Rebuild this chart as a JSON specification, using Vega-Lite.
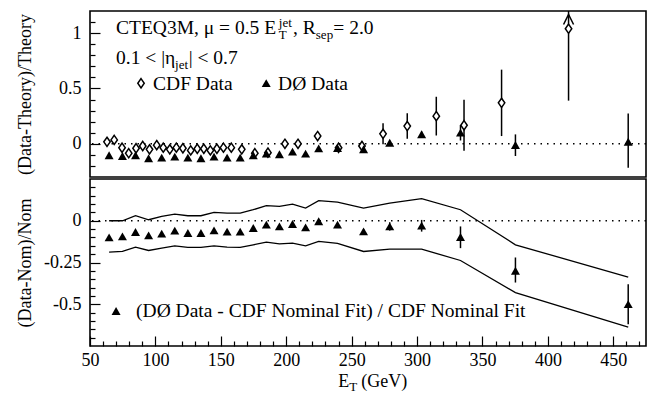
{
  "$schema": "https://vega.github.io/schema/vega-lite/v6.json",
  "background": "white",
  "padding": {"left": 15, "top": 10, "right": 10, "bottom": 0},
  "spacing": 0,
  "config": {
    "view": {"stroke": "black", "strokeWidth": 1.6, "fill": "white"},
    "axis": {"domain": false, "grid": false, "labelFont": "Liberation Serif", "labelFontSize": 18, "labelColor": "black", "tickColor": "black", "tickWidth": 1.2, "titleFont": "Liberation Serif", "titleFontSize": 18, "titleFontWeight": "normal", "titleColor": "black", "labelOverlap": false, "labelFlush": false},
    "text": {"font": "Liberation Serif", "color": "black"}
  },
  "datasets": {
    "cdf": [
      {"x": 63, "y": 0.018, "lo": 0.013, "hi": 0.023},
      {"x": 68.5, "y": 0.035, "lo": 0.03, "hi": 0.04},
      {"x": 74.5, "y": -0.036, "lo": -0.041, "hi": -0.031},
      {"x": 79.6, "y": -0.085, "lo": -0.09, "hi": -0.08},
      {"x": 85.2, "y": -0.04, "lo": -0.045, "hi": -0.035},
      {"x": 90.3, "y": -0.02, "lo": -0.025, "hi": -0.015},
      {"x": 95.5, "y": -0.05, "lo": -0.055, "hi": -0.045},
      {"x": 101, "y": -0.012, "lo": -0.017, "hi": -0.007},
      {"x": 106, "y": -0.035, "lo": -0.04, "hi": -0.03},
      {"x": 111, "y": -0.05, "lo": -0.055, "hi": -0.045},
      {"x": 116, "y": -0.035, "lo": -0.04, "hi": -0.03},
      {"x": 121, "y": -0.04, "lo": -0.045, "hi": -0.035},
      {"x": 127, "y": -0.06, "lo": -0.066, "hi": -0.054},
      {"x": 132, "y": -0.045, "lo": -0.051, "hi": -0.039},
      {"x": 137, "y": -0.045, "lo": -0.051, "hi": -0.039},
      {"x": 142, "y": -0.06, "lo": -0.066, "hi": -0.054},
      {"x": 147, "y": -0.045, "lo": -0.051, "hi": -0.039},
      {"x": 152, "y": -0.035, "lo": -0.041, "hi": -0.029},
      {"x": 158, "y": -0.035, "lo": -0.041, "hi": -0.029},
      {"x": 166, "y": -0.05, "lo": -0.057, "hi": -0.043},
      {"x": 176, "y": -0.085, "lo": -0.092, "hi": -0.078},
      {"x": 186, "y": -0.08, "lo": -0.088, "hi": -0.072},
      {"x": 199, "y": 0.0, "lo": -0.01, "hi": 0.01},
      {"x": 209, "y": 0.0, "lo": -0.012, "hi": 0.012},
      {"x": 224, "y": 0.07, "lo": 0.055, "hi": 0.085},
      {"x": 240, "y": -0.036, "lo": -0.056, "hi": -0.016},
      {"x": 257.9, "y": -0.02, "lo": -0.06, "hi": 0.02},
      {"x": 274, "y": 0.09, "lo": -0.005, "hi": 0.185},
      {"x": 292.5, "y": 0.16, "lo": 0.045, "hi": 0.275},
      {"x": 314.7, "y": 0.25, "lo": 0.075, "hi": 0.425},
      {"x": 335.9, "y": 0.168, "lo": -0.062, "hi": 0.398},
      {"x": 364.6, "y": 0.37, "lo": 0.07, "hi": 0.67},
      {"x": 415.8, "y": 1.04, "lo": 0.39, "hi": 1.6}
    ],
    "d0": [
      {"x": 64.6, "y": -0.105, "lo": -0.111, "hi": -0.099, "r": -0.1, "rlo": -0.106, "rhi": -0.094, "up": 0.0, "dn": -0.188},
      {"x": 74.8, "y": -0.111, "lo": -0.117, "hi": -0.105, "r": -0.094, "rlo": -0.1, "rhi": -0.088, "up": 0.0, "dn": -0.184},
      {"x": 84.8, "y": -0.105, "lo": -0.111, "hi": -0.099, "r": -0.068, "rlo": -0.074, "rhi": -0.062, "up": 0.03, "dn": -0.158},
      {"x": 94.8, "y": -0.132, "lo": -0.138, "hi": -0.126, "r": -0.088, "rlo": -0.094, "rhi": -0.082, "up": 0.006, "dn": -0.178},
      {"x": 104.8, "y": -0.126, "lo": -0.132, "hi": -0.12, "r": -0.078, "rlo": -0.084, "rhi": -0.072, "up": 0.026, "dn": -0.164},
      {"x": 114.8, "y": -0.117, "lo": -0.123, "hi": -0.111, "r": -0.06, "rlo": -0.066, "rhi": -0.054, "up": 0.04, "dn": -0.15},
      {"x": 124.8, "y": -0.126, "lo": -0.132, "hi": -0.12, "r": -0.074, "rlo": -0.08, "rhi": -0.068, "up": 0.03, "dn": -0.16},
      {"x": 134.8, "y": -0.132, "lo": -0.138, "hi": -0.126, "r": -0.074, "rlo": -0.08, "rhi": -0.068, "up": 0.03, "dn": -0.16},
      {"x": 144.8, "y": -0.117, "lo": -0.123, "hi": -0.111, "r": -0.058, "rlo": -0.064, "rhi": -0.052, "up": 0.05, "dn": -0.15},
      {"x": 154.8, "y": -0.126, "lo": -0.132, "hi": -0.12, "r": -0.066, "rlo": -0.072, "rhi": -0.06, "up": 0.046, "dn": -0.158},
      {"x": 164.8, "y": -0.126, "lo": -0.132, "hi": -0.12, "r": -0.066, "rlo": -0.072, "rhi": -0.06, "up": 0.046, "dn": -0.16},
      {"x": 174.8, "y": -0.105, "lo": -0.111, "hi": -0.099, "r": -0.044, "rlo": -0.05, "rhi": -0.038, "up": 0.066, "dn": -0.144},
      {"x": 184.8, "y": -0.09, "lo": -0.096, "hi": -0.084, "r": -0.024, "rlo": -0.03, "rhi": -0.018, "up": 0.09, "dn": -0.128},
      {"x": 194.8, "y": -0.095, "lo": -0.101, "hi": -0.089, "r": -0.034, "rlo": -0.04, "rhi": -0.028, "up": 0.086, "dn": -0.138},
      {"x": 204.8, "y": -0.072, "lo": -0.078, "hi": -0.066, "r": -0.02, "rlo": -0.026, "rhi": -0.014, "up": 0.1, "dn": -0.134},
      {"x": 214.8, "y": -0.09, "lo": -0.096, "hi": -0.084, "r": -0.04, "rlo": -0.046, "rhi": -0.034, "up": 0.076, "dn": -0.15},
      {"x": 224.8, "y": -0.042, "lo": -0.048, "hi": -0.036, "r": -0.004, "rlo": -0.01, "rhi": 0.002, "up": 0.12, "dn": -0.124},
      {"x": 239.2, "y": -0.04, "lo": -0.046, "hi": -0.034, "r": -0.024, "rlo": -0.03, "rhi": -0.018, "up": 0.112, "dn": -0.136},
      {"x": 259.1, "y": -0.05, "lo": -0.065, "hi": -0.035, "r": -0.064, "rlo": -0.079, "rhi": -0.049, "up": 0.076, "dn": -0.184},
      {"x": 279.1, "y": 0.009, "lo": -0.011, "hi": 0.029, "r": -0.034, "rlo": -0.059, "rhi": -0.009, "up": 0.106, "dn": -0.17},
      {"x": 303.5, "y": 0.085, "lo": 0.06, "hi": 0.11, "r": -0.03, "rlo": -0.065, "rhi": 0.005, "up": 0.132, "dn": -0.17},
      {"x": 333.2, "y": 0.1, "lo": 0.03, "hi": 0.17, "r": -0.098, "rlo": -0.164, "rhi": -0.034, "up": 0.066, "dn": -0.238},
      {"x": 375.2, "y": -0.012, "lo": -0.11, "hi": 0.085, "r": -0.3, "rlo": -0.37, "rhi": -0.22, "up": -0.144, "dn": -0.43},
      {"x": 461.4, "y": 0.018, "lo": -0.216, "hi": 0.274, "r": -0.5, "rlo": -0.62, "rhi": -0.38, "up": -0.338, "dn": -0.637}
    ]
  },
  "vconcat": [
    {
      "width": 556,
      "height": 166,
      "data": {"values": [{}]},
      "resolve": {"axis": {"y": "independent"}},
      "layer": [
        {
          "mark": {"type": "rule", "strokeDash": [1.5, 5], "strokeWidth": 1.6, "color": "black"},
          "encoding": {
            "y": {"datum": 0, "type": "quantitative", "scale": {"domain": [-0.3, 1.2], "nice": false, "zero": false},
              "axis": {"orient": "left", "values": [-0.2, -0.1, 0.1, 0.2, 0.3, 0.4, 0.6, 0.7, 0.8, 0.9, 1.1], "labels": false, "tickSize": -5, "title": null}
            }
          }
        },
        {
          "data": {"name": "cdf"},
          "mark": {"type": "rule", "strokeWidth": 1.5, "color": "black", "clip": true},
          "encoding": {
            "x": {"field": "x", "type": "quantitative", "scale": {"domain": [50, 475], "nice": false, "zero": false}, "axis": null},
            "y": {"field": "lo", "type": "quantitative", "scale": {"domain": [-0.3, 1.2], "nice": false, "zero": false},
              "axis": {"orient": "left", "values": [0, 0.5, 1], "labelExpr": "datum.value == 0 ? '0' : datum.value == 0.5 ? '0.5' : '1'", "tickSize": -10, "labelPadding": 19,
                "title": "(Data-Theory)/Theory", "titleX": -65, "titleBaseline": "middle", "titleAngle": 270}
            },
            "y2": {"field": "hi"}
          }
        },
        {
          "data": {"name": "d0"},
          "mark": {"type": "rule", "strokeWidth": 1.5, "color": "black", "clip": true},
          "encoding": {
            "x": {"field": "x", "type": "quantitative", "scale": {"domain": [50, 475], "nice": false, "zero": false}, "axis": null},
            "y": {"field": "lo", "type": "quantitative", "scale": {"domain": [-0.3, 1.2], "nice": false, "zero": false}, "axis": null},
            "y2": {"field": "hi"}
          }
        },
        {
          "data": {"name": "cdf"},
          "mark": {"type": "point", "shape": "M0,-1L0.7,0L0,1L-0.7,0Z", "size": 85, "filled": true, "fill": "white", "stroke": "black", "strokeWidth": 1.5, "opacity": 1},
          "encoding": {
            "x": {"field": "x", "type": "quantitative", "scale": {"domain": [50, 475], "nice": false, "zero": false}, "axis": null},
            "y": {"field": "y", "type": "quantitative", "scale": {"domain": [-0.3, 1.2], "nice": false, "zero": false}, "axis": null}
          }
        },
        {
          "data": {"name": "d0"},
          "mark": {"type": "point", "shape": "M0,-0.9L1,0.85L-1,0.85Z", "size": 81, "filled": true, "fill": "black", "strokeWidth": 0, "opacity": 1},
          "encoding": {
            "x": {"field": "x", "type": "quantitative", "scale": {"domain": [50, 475], "nice": false, "zero": false}, "axis": null},
            "y": {"field": "y", "type": "quantitative", "scale": {"domain": [-0.3, 1.2], "nice": false, "zero": false}, "axis": null}
          }
        },
        {
          "data": {"name": "cdf"},
          "transform": [{"filter": "datum.hi > 1.2"}],
          "mark": {"type": "point", "shape": "M-1,1L0,-1L1,1", "size": 100, "filled": false, "stroke": "black", "strokeWidth": 1.5, "opacity": 1},
          "encoding": {
            "x": {"field": "x", "type": "quantitative", "scale": {"domain": [50, 475], "nice": false, "zero": false}, "axis": null},
            "y": {"datum": 1.123, "type": "quantitative", "scale": {"domain": [-0.3, 1.2], "nice": false, "zero": false}, "axis": null}
          }
        },
        {
          "mark": {"type": "point", "shape": "M0,-1L0.7,0L0,1L-0.7,0Z", "size": 85, "filled": true, "fill": "white", "stroke": "black", "strokeWidth": 1.5, "opacity": 1},
          "encoding": {
            "x": {"datum": 89.0, "type": "quantitative", "scale": {"domain": [50, 475], "nice": false, "zero": false}, "axis": null},
            "y": {"datum": 0.547, "type": "quantitative", "scale": {"domain": [-0.3, 1.2], "nice": false, "zero": false}, "axis": null}
          }
        },
        {
          "mark": {"type": "point", "shape": "M0,-0.9L1,0.85L-1,0.85Z", "size": 81, "filled": true, "fill": "black", "strokeWidth": 0, "opacity": 1},
          "encoding": {
            "x": {"datum": 184.7, "type": "quantitative", "scale": {"domain": [50, 475], "nice": false, "zero": false}, "axis": null},
            "y": {"datum": 0.547, "type": "quantitative", "scale": {"domain": [-0.3, 1.2], "nice": false, "zero": false}, "axis": null}
          }
        },
        {"mark": {"type": "text", "align": "left", "baseline": "alphabetic", "fontSize": 19.5},
          "encoding": {"x": {"datum": 69.9, "type": "quantitative", "scale": {"domain": [50, 475], "nice": false, "zero": false}, "axis": null}, "y": {"datum": 0.988, "type": "quantitative", "scale": {"domain": [-0.3, 1.2], "nice": false, "zero": false}, "axis": null}, "text": {"value": "CTEQ3M, μ = 0.5 E"}}},
        {"mark": {"type": "text", "align": "left", "baseline": "alphabetic", "fontSize": 13},
          "encoding": {"x": {"datum": 194.3, "type": "quantitative", "scale": {"domain": [50, 475], "nice": false, "zero": false}, "axis": null}, "y": {"datum": 1.051, "type": "quantitative", "scale": {"domain": [-0.3, 1.2], "nice": false, "zero": false}, "axis": null}, "text": {"value": "jet"}}},
        {"mark": {"type": "text", "align": "left", "baseline": "alphabetic", "fontSize": 13},
          "encoding": {"x": {"datum": 194.3, "type": "quantitative", "scale": {"domain": [50, 475], "nice": false, "zero": false}, "axis": null}, "y": {"datum": 0.943, "type": "quantitative", "scale": {"domain": [-0.3, 1.2], "nice": false, "zero": false}, "axis": null}, "text": {"value": "T"}}},
        {"mark": {"type": "text", "align": "left", "baseline": "alphabetic", "fontSize": 19.5},
          "encoding": {"x": {"datum": 205.2, "type": "quantitative", "scale": {"domain": [50, 475], "nice": false, "zero": false}, "axis": null}, "y": {"datum": 0.988, "type": "quantitative", "scale": {"domain": [-0.3, 1.2], "nice": false, "zero": false}, "axis": null}, "text": {"value": ", R"}}},
        {"mark": {"type": "text", "align": "left", "baseline": "alphabetic", "fontSize": 13},
          "encoding": {"x": {"datum": 222.6, "type": "quantitative", "scale": {"domain": [50, 475], "nice": false, "zero": false}, "axis": null}, "y": {"datum": 0.943, "type": "quantitative", "scale": {"domain": [-0.3, 1.2], "nice": false, "zero": false}, "axis": null}, "text": {"value": "sep"}}},
        {"mark": {"type": "text", "align": "left", "baseline": "alphabetic", "fontSize": 19.5},
          "encoding": {"x": {"datum": 236.0, "type": "quantitative", "scale": {"domain": [50, 475], "nice": false, "zero": false}, "axis": null}, "y": {"datum": 0.988, "type": "quantitative", "scale": {"domain": [-0.3, 1.2], "nice": false, "zero": false}, "axis": null}, "text": {"value": "= 2.0"}}},
        {"mark": {"type": "text", "align": "left", "baseline": "alphabetic", "fontSize": 19.5},
          "encoding": {"x": {"datum": 69.9, "type": "quantitative", "scale": {"domain": [50, 475], "nice": false, "zero": false}, "axis": null}, "y": {"datum": 0.718, "type": "quantitative", "scale": {"domain": [-0.3, 1.2], "nice": false, "zero": false}, "axis": null}, "text": {"value": "0.1 < |η"}}},
        {"mark": {"type": "text", "align": "left", "baseline": "alphabetic", "fontSize": 13},
          "encoding": {"x": {"datum": 115.0, "type": "quantitative", "scale": {"domain": [50, 475], "nice": false, "zero": false}, "axis": null}, "y": {"datum": 0.673, "type": "quantitative", "scale": {"domain": [-0.3, 1.2], "nice": false, "zero": false}, "axis": null}, "text": {"value": "jet"}}},
        {"mark": {"type": "text", "align": "left", "baseline": "alphabetic", "fontSize": 19.5},
          "encoding": {"x": {"datum": 125.4, "type": "quantitative", "scale": {"domain": [50, 475], "nice": false, "zero": false}, "axis": null}, "y": {"datum": 0.718, "type": "quantitative", "scale": {"domain": [-0.3, 1.2], "nice": false, "zero": false}, "axis": null}, "text": {"value": "| < 0.7"}}},
        {"mark": {"type": "text", "align": "left", "baseline": "alphabetic", "fontSize": 19.5},
          "encoding": {"x": {"datum": 98.2, "type": "quantitative", "scale": {"domain": [50, 475], "nice": false, "zero": false}, "axis": null}, "y": {"datum": 0.484, "type": "quantitative", "scale": {"domain": [-0.3, 1.2], "nice": false, "zero": false}, "axis": null}, "text": {"value": "CDF Data"}}},
        {"mark": {"type": "text", "align": "left", "baseline": "alphabetic", "fontSize": 19.5},
          "encoding": {"x": {"datum": 193.8, "type": "quantitative", "scale": {"domain": [50, 475], "nice": false, "zero": false}, "axis": null}, "y": {"datum": 0.484, "type": "quantitative", "scale": {"domain": [-0.3, 1.2], "nice": false, "zero": false}, "axis": null}, "text": {"value": "DØ Data"}}}
      ]
    },
    {
      "width": 556,
      "height": 167,
      "data": {"values": [{}]},
      "resolve": {"axis": {"x": "independent", "y": "independent"}},
      "layer": [
        {
          "mark": {"type": "rule", "strokeDash": [1.5, 5], "strokeWidth": 1.6, "color": "black"},
          "encoding": {
            "y": {"datum": 0, "type": "quantitative", "scale": {"domain": [-0.75, 0.25], "nice": false, "zero": false},
              "axis": {"orient": "left", "values": [-0.7, -0.65, -0.6, -0.55, -0.45, -0.4, -0.35, -0.3, -0.2, -0.15, -0.1, -0.05, 0.05, 0.1, 0.15, 0.2], "labels": false, "tickSize": -5, "title": null}
            }
          }
        },
        {
          "data": {"name": "d0"},
          "mark": {"type": "line", "strokeWidth": 1.3, "color": "black"},
          "encoding": {
            "x": {"field": "x", "type": "quantitative", "scale": {"domain": [50, 475], "nice": false, "zero": false},
              "axis": {"orient": "bottom", "values": [60, 70, 80, 90, 110, 120, 130, 140, 160, 170, 180, 190, 210, 220, 230, 240, 260, 270, 280, 290, 310, 320, 330, 340, 360, 370, 380, 390, 410, 420, 430, 440, 460, 470], "labels": false, "tickSize": -5, "title": null}
            },
            "y": {"field": "up", "type": "quantitative", "scale": {"domain": [-0.75, 0.25], "nice": false, "zero": false}, "axis": null}
          }
        },
        {
          "data": {"name": "d0"},
          "mark": {"type": "line", "strokeWidth": 1.3, "color": "black"},
          "encoding": {
            "x": {"field": "x", "type": "quantitative", "scale": {"domain": [50, 475], "nice": false, "zero": false},
              "axis": {"orient": "bottom", "values": [50, 100, 150, 200, 250, 300, 350, 400, 450], "tickSize": -10, "labelPadding": 15, "title": null}
            },
            "y": {"field": "dn", "type": "quantitative", "scale": {"domain": [-0.75, 0.25], "nice": false, "zero": false},
              "axis": {"orient": "left", "values": [0, -0.25, -0.5], "labelExpr": "datum.value == 0 ? '0' : datum.value == -0.25 ? '-0.25' : '-0.5'", "tickSize": -10, "labelPadding": 19,
                "title": "(Data-Nom)/Nom", "titleX": -65, "titleBaseline": "middle", "titleAngle": 270}
            }
          }
        },
        {
          "data": {"name": "d0"},
          "mark": {"type": "rule", "strokeWidth": 1.5, "color": "black"},
          "encoding": {
            "x": {"field": "x", "type": "quantitative", "scale": {"domain": [50, 475], "nice": false, "zero": false}, "axis": null},
            "y": {"field": "rlo", "type": "quantitative", "scale": {"domain": [-0.75, 0.25], "nice": false, "zero": false}, "axis": null},
            "y2": {"field": "rhi"}
          }
        },
        {
          "data": {"name": "d0"},
          "mark": {"type": "point", "shape": "M0,-0.9L1,0.85L-1,0.85Z", "size": 81, "filled": true, "fill": "black", "strokeWidth": 0, "opacity": 1},
          "encoding": {
            "x": {"field": "x", "type": "quantitative", "scale": {"domain": [50, 475], "nice": false, "zero": false}, "axis": null},
            "y": {"field": "r", "type": "quantitative", "scale": {"domain": [-0.75, 0.25], "nice": false, "zero": false}, "axis": null}
          }
        },
        {
          "mark": {"type": "point", "shape": "M0,-0.9L1,0.85L-1,0.85Z", "size": 81, "filled": true, "fill": "black", "strokeWidth": 0, "opacity": 1},
          "encoding": {
            "x": {"datum": 69.9, "type": "quantitative", "scale": {"domain": [50, 475], "nice": false, "zero": false}, "axis": null},
            "y": {"datum": -0.541, "type": "quantitative", "scale": {"domain": [-0.75, 0.25], "nice": false, "zero": false}, "axis": null}
          }
        },
        {"mark": {"type": "text", "align": "left", "baseline": "alphabetic", "fontSize": 19.5},
          "encoding": {"x": {"datum": 85.2, "type": "quantitative", "scale": {"domain": [50, 475], "nice": false, "zero": false}, "axis": null}, "y": {"datum": -0.577, "type": "quantitative", "scale": {"domain": [-0.75, 0.25], "nice": false, "zero": false}, "axis": null}, "text": {"value": "(DØ Data - CDF Nominal Fit) / CDF Nominal Fit"}}},
        {"mark": {"type": "text", "align": "left", "baseline": "alphabetic", "fontSize": 18},
          "encoding": {"x": {"datum": 239.7, "type": "quantitative", "scale": {"domain": [50, 475], "nice": false, "zero": false}, "axis": null}, "y": {"datum": -0.997, "type": "quantitative", "scale": {"domain": [-0.75, 0.25], "nice": false, "zero": false}, "axis": null}, "text": {"value": "E"}}},
        {"mark": {"type": "text", "align": "left", "baseline": "alphabetic", "fontSize": 13},
          "encoding": {"x": {"datum": 248.1, "type": "quantitative", "scale": {"domain": [50, 475], "nice": false, "zero": false}, "axis": null}, "y": {"datum": -1.021, "type": "quantitative", "scale": {"domain": [-0.75, 0.25], "nice": false, "zero": false}, "axis": null}, "text": {"value": "T"}}},
        {"mark": {"type": "text", "align": "left", "baseline": "alphabetic", "fontSize": 18},
          "encoding": {"x": {"datum": 257.3, "type": "quantitative", "scale": {"domain": [50, 475], "nice": false, "zero": false}, "axis": null}, "y": {"datum": -0.997, "type": "quantitative", "scale": {"domain": [-0.75, 0.25], "nice": false, "zero": false}, "axis": null}, "text": {"value": "(GeV)"}}}
      ]
    }
  ]
}
